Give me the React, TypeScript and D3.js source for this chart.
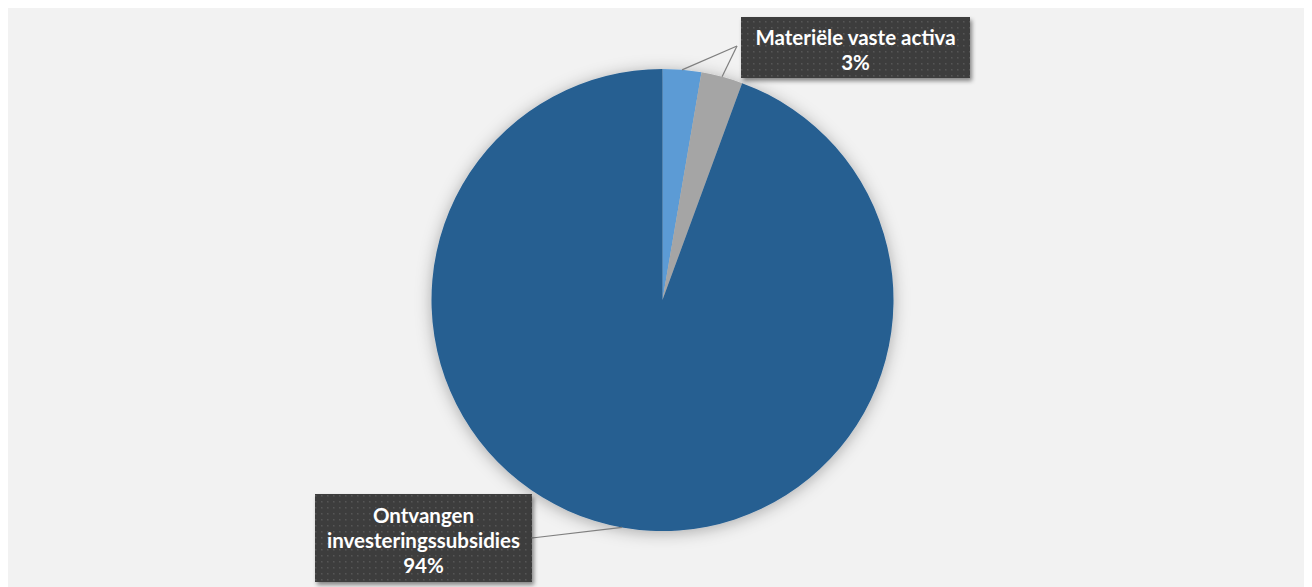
import React from "react";
import * as d3 from "d3";

const categories = ["Immateriële vaste activa", "Materiële vaste activa", "Ontvangen investeringssubsidies"];
const values = [2.7, 2.9, 94.4];
const colors = ["#5b9bd5", "#a5a5a5", "#255e91"];
// visible label lines (the first label is hidden under the second one)
const labelLines = [["Immateriële vaste activa"], ["Materiële vaste activa"], ["Ontvangen", "investeringssubsidies"]];

const W = 1304;
const H = 579;
const CX = 654.5;
const CY = 292;
const R = 231;

// label boxes: [x, y, w, h]
const boxes = [
  [733, 9, 229, 61],
  [733, 9, 229, 61],
  [307, 486, 217, 88],
];

export default function App() {
  const total = d3.sum(values);
  const pie = d3.pie<number>().sort(null).value((d) => d)(values);
  const arc = d3.arc<d3.PieArcDatum<number>>().innerRadius(0).outerRadius(R);
  const fmt = d3.format(".0%");
  const font = "Lato, 'Open Sans', sans-serif";
  const lineH = 25;

  return (
    <svg width={W} height={H} style={{ display: "block" }}>
      <defs>
        <filter id="pieShadow" x="-20%" y="-20%" width="140%" height="140%">
          <feDropShadow dx="0" dy="2" stdDeviation="8" floodColor="#000" floodOpacity="0.3" />
        </filter>
        <filter id="boxShadow" x="-10%" y="-10%" width="130%" height="140%">
          <feDropShadow dx="2" dy="3" stdDeviation="2" floodColor="#000" floodOpacity="0.45" />
        </filter>
        <pattern id="dots" width="6" height="6" patternUnits="userSpaceOnUse">
          <rect width="6" height="6" fill="#3d3d3d" />
          <rect x="1" y="1" width="1.5" height="1.5" fill="#575757" />
        </pattern>
      </defs>
      <rect x={0} y={0} width={W} height={H} fill="#f2f2f2" />
      <g transform={`translate(${CX},${CY})`} filter="url(#pieShadow)">
        {pie.map((p, i) => (
          <path key={categories[i]} d={arc(p) || ""} fill={colors[i]} />
        ))}
      </g>
      {pie.map((p, i) => {
        const mid = (p.startAngle + p.endAngle) / 2;
        const ex = CX + R * Math.sin(mid);
        const ey = CY - R * Math.cos(mid);
        const [bx, by, bw, bh] = boxes[i];
        const right = Math.sin(mid) > 0;
        const lx = right ? bx - 4 : bx + bw;
        const ly = right ? by + 29 : by + bh / 2;
        return <line key={"l" + i} x1={ex} y1={ey} x2={lx} y2={ly} stroke="#7f7f7f" strokeWidth={1.2} />;
      })}
      {pie.map((p, i) => {
        if (i === 0) return null;
        const [bx, by, bw, bh] = boxes[i];
        const lines = [...labelLines[i], fmt(values[i] / total)];
        const y0 = by + bh / 2 + 3 - ((lines.length - 1) * lineH) / 2;
        return (
          <g key={"b" + i}>
            <rect x={bx} y={by} width={bw} height={bh} fill="url(#dots)" filter="url(#boxShadow)" />
            {lines.map((t, j) => (
              <text
                key={j}
                x={bx + bw / 2}
                y={y0 + j * lineH}
                dy="0.36em"
                textAnchor="middle"
                fill="#ffffff"
                fontFamily={font}
                fontWeight="bold"
                fontSize={20.5}
              >
                {t}
              </text>
            ))}
          </g>
        );
      })}
    </svg>
  );
}
